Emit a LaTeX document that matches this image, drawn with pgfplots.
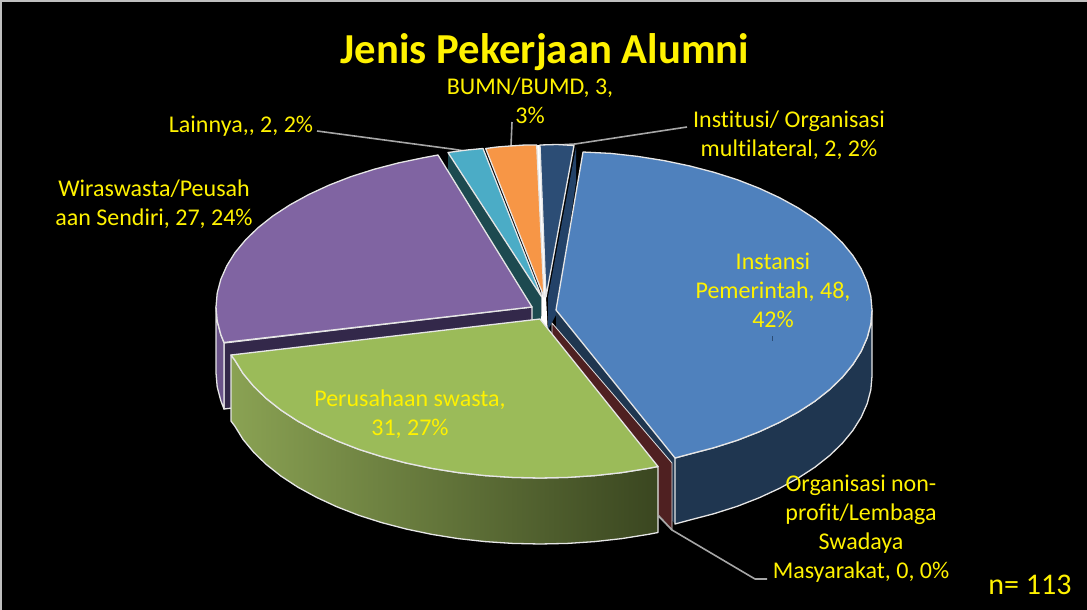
\documentclass[border=0pt]{standalone}
\usepackage{fontspec}
\setmainfont{Carlito}[Ligatures=NoCommon]
\usepackage{pgfplots}
\pgfplotsset{compat=1.18}
\definecolor{edge}{HTML}{E6E6E6}
\definecolor{lead}{HTML}{A6A6A6}
\definecolor{cblue}{HTML}{4F81BD}
\definecolor{cblueside}{HTML}{1F3650}
\definecolor{cpurple}{HTML}{8064A2}
\definecolor{cpurpleside}{HTML}{6A5389}
\definecolor{cpurplecut}{HTML}{33284A}
\definecolor{cgreen}{HTML}{9BBB59}
\definecolor{cgreenL}{HTML}{8AA253}
\definecolor{cgreenM}{HTML}{6F8540}
\definecolor{cgreenR}{HTML}{3A4620}
\definecolor{corange}{HTML}{F79646}
\definecolor{cteal}{HTML}{4BACC6}
\definecolor{ctealcut}{HTML}{1D4A50}
\definecolor{cnavy}{HTML}{2C4D75}
\definecolor{cnavycut}{HTML}{234268}
\definecolor{cred}{HTML}{4F2021}
\definecolor{cframe}{HTML}{BFBFBF}
\tikzset{
  slice/.style={draw=edge, line width=1.3pt},
  lbl/.style={text=yellow, align=center, font=\fontsize{24}{29}\selectfont},
}
\begin{document}
\begin{tikzpicture}
\begin{axis}[
  scale only axis, width=1087pt, height=610pt,
  xmin=0, xmax=1087, ymin=0, ymax=610, y dir=reverse,
  hide axis, no markers,
  every axis plot/.append style={line join=round},
]
% background and frame
\addplot[fill=black, draw=none] coordinates {(0,0)(1087,0)(1087,610)(0,610)} -- cycle;
\addplot[draw=cframe, line width=4pt] coordinates {(0,610)(0,0)(1087,0)};

% leader lines
\addplot[draw=lead, line width=1.6pt] coordinates {(317,131)(452,149)(465,151)};
\addplot[draw=lead, line width=1.6pt] coordinates {(512,122)(511,146)};
\addplot[draw=lead, line width=1.6pt] coordinates {(687,127)(575,144)(556,145)};

% cut faces behind the tops
\addplot[fill=ctealcut, draw=none] coordinates {(448,152)(541.7,297)(541.7,362)(448,217)} -- cycle;
\addplot[fill=cnavycut, draw=none] coordinates {(576,147)(576,182)(557,313)(548,330)(548,297)} -- cycle;
\addplot[fill=cpurplecut, slice] coordinates {(224,343)(532,307)(532,373)(224,409)} -- cycle;
\addplot[fill=cblueside, draw=none] coordinates {(556,310)(675,458)(675,524)(556,376)} -- cycle;
\addplot[fill=cred, draw=edge, line width=0.8pt] coordinates {(552,323)(672,463)(672,530)(658,516)(552,400)} -- cycle;

% thin white sliver between orange and navy
\addplot[fill=white, draw=none] coordinates {(537,145)(540,145)(546,297)(548,335)(541,335)(541.5,297)} -- cycle;

% navy: Institusi
\addplot[fill=cnavy, slice] coordinates {(546,297)(540,145)(557,144.5)(574,145.5)} -- cycle;
% orange: BUMN
\addplot[fill=corange, slice] coordinates {(544,297)(536.7,145)(525,145)(510,146)(497,147)(485.7,148.5)} -- cycle;
% teal: Lainnya
\addplot[fill=cteal, slice] coordinates {(541.7,297)(483,148.5)(467,150)(448,152.5)} -- cycle;

% purple side and top
\addplot[fill=cpurpleside, slice] coordinates {
  (216,307)(217.2,320.9)(220.8,334.6)(224,342.5)(224,409)
  (220.8,400.6)(217.2,386.9)(216,373)} -- cycle;
\addplot[fill=cpurple, slice] coordinates {
  (532,307)(438,155)(424,157.6)(398.5,162.9)(374,169.3)(350.7,176.7)(328.9,185.2)
  (308.6,194.6)(290,204.8)(273.1,215.8)(258.3,227.5)(245.6,239.8)(235,252.6)
  (226.8,265.8)(220.8,279.4)(217.2,293.1)(216,307)(217.2,320.9)(220.8,334.6)(224,342.5)} -- cycle;

% green side (shaded) and top
\addplot[left color=cgreenL, middle color=cgreenM, right color=cgreenR, slice] coordinates {
  (231,355)(234.8,360.1)(243,373.4)(253.6,386.2)(266.3,398.5)(281.1,410.2)(297.9,421.2)
  (316.6,431.4)(336.9,440.8)(358.7,449.3)(382,456.7)(406.5,463.1)(431.9,468.4)
  (458.2,472.6)(485.1,475.6)(512.4,477.4)(540,478)(567.6,477.4)(594.9,475.6)
  (621.8,472.6)(648.1,468.4)(658,466.5)
  (658,532.5)(648.1,534.4)(621.8,538.6)(594.9,541.6)(567.6,543.4)(540,544)
  (512.4,543.4)(485.1,541.6)(458.2,538.6)(431.9,534.4)(406.5,529.1)(382,522.7)
  (358.7,515.3)(336.9,506.8)(316.6,497.4)(297.9,487.2)(281.1,476.2)(266.3,464.5)
  (253.6,452.2)(243,439.4)(234.8,426.1)(231,421)} -- cycle;
\addplot[fill=cgreen, slice] coordinates {
  (540,319)(231,355)(234.8,360.1)(243,373.4)(253.6,386.2)(266.3,398.5)(281.1,410.2)(297.9,421.2)
  (316.6,431.4)(336.9,440.8)(358.7,449.3)(382,456.7)(406.5,463.1)(431.9,468.4)
  (458.2,472.6)(485.1,475.6)(512.4,477.4)(540,478)(567.6,477.4)(594.9,475.6)
  (621.8,472.6)(648.1,468.4)(658,466.5)} -- cycle;

% blue side and top
\addplot[fill=cblueside, slice] coordinates {
  (872,310)(870.8,323.9)(867.2,337.6)(861.2,351.2)(852.9,364.4)(842.4,377.2)(829.7,389.5)
  (814.9,401.2)(798,412.2)(779.4,422.4)(759.1,431.8)(737.3,440.3)(714,447.7)(689.5,454.1)(675,458)
  (675,524)(689.5,520.1)(714,513.7)(737.3,506.3)(759.1,497.8)(779.4,488.4)(798,478.2)
  (814.9,467.2)(829.7,455.5)(842.4,443.2)(852.9,430.4)(861.2,417.2)(867.2,403.6)(870.8,389.9)(872,376)} -- cycle;
\addplot[fill=cblue, slice] coordinates {
  (556,310)(583,152)(610.9,153.4)(637.8,156.4)(664.1,160.6)(689.5,165.9)(714,172.3)(737.3,179.7)
  (759.1,188.2)(779.4,197.6)(798,207.8)(814.9,218.8)(829.7,230.5)(842.4,242.8)(852.9,255.6)
  (861.2,268.8)(867.2,282.4)(870.8,296.1)(872,310)(870.8,323.9)(867.2,337.6)(861.2,351.2)
  (852.9,364.4)(842.4,377.2)(829.7,389.5)(814.9,401.2)(798,412.2)(779.4,422.4)(759.1,431.8)
  (737.3,440.3)(714,447.7)(689.5,454.1)(675,458)} -- cycle;
\addplot[draw=cnavy, line width=0.8pt] coordinates {(772.5,336)(772.5,341)};

% leader of the zero slice
\addplot[draw=lead, line width=1.6pt] coordinates {(658,515)(672,530)(755,579)(767,579)};

% texts
\node[text=yellow, font=\fontsize{42.7}{44}\selectfont\bfseries] at (axis cs:545,52) {Jenis Pekerjaan Alumni};
\node[lbl] at (axis cs:530,101) {BUMN/BUMD, 3,\\3\%};
\node[lbl] at (axis cs:789,135) {Institusi/ Organisasi\\multilateral, 2, 2\%};
\node[lbl] at (axis cs:241,126) {Lainnya,{}, 2, 2\%};
\node[lbl] at (axis cs:154,204) {Wiraswasta/Peusah\\aan Sendiri, 27, 24\%};
\node[lbl] at (axis cs:773,290) {Instansi\\Pemerintah, 48,\\42\%};
\node[lbl] at (axis cs:410,414) {Perusahaan swasta,\\31, 27\%};
\node[lbl] at (axis cs:861,529) {Organisasi non-\\profit/Lembaga\\Swadaya\\Masyarakat, 0, 0\%};
\node[text=yellow, font=\fontsize{30}{32}\selectfont] at (axis cs:1030,585) {n= 113};
\end{axis}
\end{tikzpicture}
\end{document}
